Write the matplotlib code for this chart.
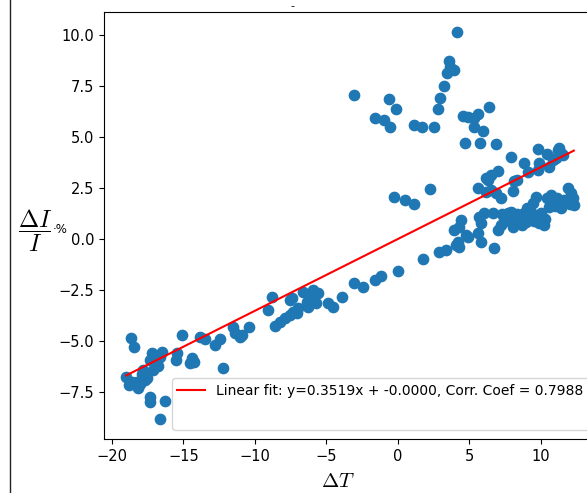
import numpy as np
import matplotlib
matplotlib.use("Agg")
import matplotlib.pyplot as plt
from matplotlib.lines import Line2D

# 温度变化 ΔT 与电流相对变化 ΔI/I (%)
dT = [-18.67, -18.46, -19.0, -18.8, -18.25, -18.2, -17.8, -17.55, -17.34, -17.2,
      -17.0, -16.8, -16.65, -16.5, -17.3, -17.34, -16.3, -16.6, -15.5, -15.45,
      -15.1, -14.55, -14.4, -14.27, -13.85, -13.5, -12.8, -12.45, -12.24, -11.54,
      -11.4, -11.05, -10.9, -10.4, -9.1, -8.8, -8.6, -8.25, -7.9, -7.55,
      -7.34, -7.06, -7.0, -7.55, -7.4, -6.64, -6.36, -6.3, -6.0, -5.94,
      -5.6, -5.73, -4.9, -4.55, -3.9, -3.08, -2.45, -1.6, -1.2, 0.0,
      -17.9, -18.0, -17.1, -16.9, -18.6, -17.7,
      1.75, 2.87, 3.36, 4.05, 4.27, 4.2, 3.9, 4.27, 4.4, 4.75,
      4.9, 5.6, 5.8, 6.7, 5.66, 6.0, 6.64, 5.8, 7.0, 7.2,
      7.41, 7.69, 7.9, 8.1, 8.04, 8.4, 8.6, 8.8, 8.95, 9.16,
      9.3, 9.44, 9.65, 9.8, 10.0, 10.2, 9.86, 10.56, 10.7, 10.9,
      11.4, 11.6, 11.9, 12.1, 12.3, 12.24,
      7.5, 8.3, 9.0, 9.5, 10.3, 11.0, 11.8, 12.0, 8.7, 7.3, 10.4, 11.1,
      -0.28, 0.49, 1.12, 2.24, 5.6, 6.15, 6.5, 6.85, 7.2, 8.04,
      8.1, 6.3, 6.15, 6.5, 7.0, 8.32, 7.9, 8.8, 9.1, 9.8,
      9.86, 9.8, 10.4, 10.56, 10.84, 11.2, 11.26, 11.4, 11.54, 11.05,
      4.13, 3.57, 3.43, 3.9, 3.64, 3.22, 2.94, 2.8, -3.08, -0.63,
      -0.14, -1.6, -0.98, -0.56, 1.12, 1.68, 2.5, 4.55, 4.9, 5.3,
      5.6, 5.3, 5.94, 6.36, 4.7, 5.73, 6.85]
dI = [-4.85, -5.3, -6.76, -7.16, -7.0, -7.3, -6.4, -6.8, -5.93, -5.6,
      -6.1, -6.2, -5.8, -5.55, -7.75, -8.0, -7.95, -8.8, -5.93, -5.6,
      -4.7, -6.1, -5.83, -6.03, -4.8, -4.9, -5.2, -4.9, -6.3, -4.3,
      -4.6, -4.8, -4.7, -4.3, -3.5, -2.85, -4.26, -4.07, -3.87, -3.72,
      -3.58, -3.63, -3.38, -3.0, -2.9, -2.6, -3.09, -3.33, -2.9, -2.5,
      -2.65, -3.14, -3.14, -3.33, -2.84, -2.16, -2.35, -2.0, -1.8, -1.55,
      -6.6, -7.1, -6.4, -5.9, -7.0, -6.9,
      -0.98, -0.64, -0.54, -0.29, -0.39, -0.15, 0.44, 0.59, 0.93, 0.2,
      0.1, 0.29, -0.15, -0.44, 1.08, 1.27, 1.27, 0.78, 0.44, 0.69,
      1.03, 1.27, 1.32, 1.08, 0.59, 0.93, 1.18, 1.27, 0.83, 1.08,
      1.32, 1.76, 2.06, 1.08, 1.27, 0.69, 0.78, 1.57, 2.16, 1.81,
      1.52, 1.91, 2.5, 2.25, 1.67, 2.0,
      0.9, 1.2, 1.5, 0.9, 1.0, 1.6, 1.9, 1.7, 0.7, 1.2, 2.0, 2.0,
      2.06, 1.91, 1.72, 2.45, 2.5, 2.3, 2.4, 2.25, 2.0, 2.35,
      2.84, 2.9, 3.0, 3.14, 3.33, 2.9, 4.0, 3.72, 3.28, 4.4,
      3.72, 3.38, 4.17, 3.53, 3.87, 4.36, 4.46, 4.2, 4.1, 3.97,
      10.15, 8.73, 8.14, 8.28, 8.43, 7.5, 6.9, 6.37, 7.06, 6.86,
      6.37, 5.93, 5.83, 5.49, 5.59, 5.49, 5.49, 6.03, 5.98, 5.93,
      6.13, 5.49, 5.29, 6.47, 4.7, 4.7, 4.66]

# 图例中给出的拟合结果
slope = 0.3519
intercept = -0.0000
corr = 0.7988

dT = np.array(dT)
dI = np.array(dI)

plt.rcParams['mathtext.fontset'] = 'cm'

fig = plt.figure(figsize=(5.87, 4.93), dpi=100)
ax = fig.add_axes([104 / 587, 1 - 439 / 493, 492 / 587, 427 / 493])

ax.scatter(dT, dI, s=55, color='#1f77b4')
xs = np.array([dT.min(), dT.max()])
ax.plot(xs, slope * xs + intercept, color='red',
        label=f'Linear fit: y={slope:.4f}x + {intercept:.4f}, Corr. Coef = {corr:.4f}')
# 图例里的第二行是空的
ax.plot([], [], ' ', label=' ')

ax.set_xlim(-20.55, 13.85)
ax.set_ylim(-9.8, 11.12)
ax.set_xticks([-20, -15, -10, -5, 0, 5, 10])
ax.set_yticks([-7.5, -5.0, -2.5, 0.0, 2.5, 5.0, 7.5, 10.0])
ax.tick_params(labelsize=10.5)

ax.set_xlabel(r'$\Delta T$', fontsize=15, va='center')
ax.xaxis.set_label_coords(0.475, -0.098)
ax.set_ylabel(r'$\dfrac{\Delta I}{I}$', fontsize=17.5, rotation=0,
              ha='center', va='center')
ax.yaxis.set_label_coords(-0.14, 0.488)
ax.text(-0.089, 0.49, '·%', transform=ax.transAxes, fontsize=8.5,
        ha='center', va='center')

ax.legend(loc='lower right', fontsize=10, labelspacing=0.9,
          bbox_to_anchor=(1.0, 0.005))

# 截图左侧的竖线和顶部残留的标题
fig.add_artist(Line2D([9.5 / 587, 9.5 / 587], [0, 1], color='#222222', lw=1))
fig.text(292 / 587, 1 - 6 / 493, '-', ha='center', va='center', fontsize=8)

fig.savefig('out.png', dpi=100)
